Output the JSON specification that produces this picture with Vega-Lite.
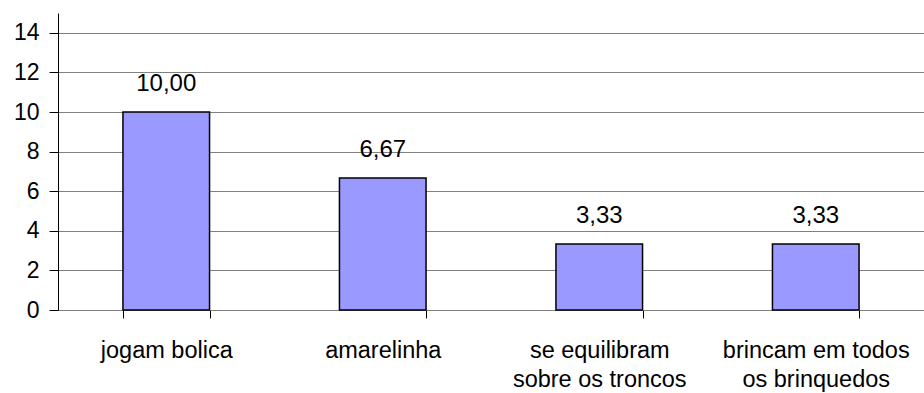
{
  "$schema": "https://vega.github.io/schema/vega-lite/v6.json",
  "width": 866,
  "height": 297,
  "autosize": {"type": "none"},
  "padding": {"left": 58, "top": 13, "right": 0, "bottom": 83},
  "background": "white",
  "config": {
    "font": "Liberation Sans",
    "view": {"stroke": null},
    "locale": {"number": {"decimal": ",", "thousands": ".", "grouping": [3], "currency": ["", ""]}}
  },
  "data": {
    "values": [
      {"categoria": "jogam bolica", "valor": 10.0},
      {"categoria": "amarelinha", "valor": 6.6667},
      {"categoria": "se equilibram sobre os troncos", "valor": 3.3333},
      {"categoria": "brincam em todos os brinquedos", "valor": 3.3333}
    ]
  },
  "encoding": {
    "x": {
      "field": "categoria",
      "type": "nominal",
      "sort": null,
      "scale": {"paddingInner": 0.6, "paddingOuter": 0.3},
      "axis": {
        "title": null,
        "labelAngle": 0,
        "labelFontSize": 23.5,
        "labelColor": "black",
        "labelPadding": 32,
        "labelLineHeight": 29,
        "labelBaseline": "middle",
        "labelExpr": "datum.label == 'se equilibram sobre os troncos' ? ['se equilibram', 'sobre os troncos'] : datum.label == 'brincam em todos os brinquedos' ? ['brincam em todos', 'os brinquedos'] : datum.label",
        "tickBand": "extent",
        "tickSize": 8,
        "tickColor": "black",
        "domainColor": "#808080",
        "labelLimit": 300,
        "labelOverlap": false
      }
    },
    "y": {
      "field": "valor",
      "type": "quantitative",
      "scale": {"domain": [0, 15], "nice": false},
      "axis": {
        "title": null,
        "values": [0, 2, 4, 6, 8, 10, 12, 14],
        "grid": true,
        "gridColor": "#808080",
        "gridWidth": 1,
        "tickSize": 9,
        "tickColor": "black",
        "domainColor": "black",
        "labelFontSize": 23,
        "labelColor": "black",
        "labelPadding": 10
      }
    }
  },
  "layer": [
    {
      "mark": {"type": "bar", "color": "#9999FF", "stroke": "black", "strokeWidth": 1.5}
    },
    {
      "mark": {"type": "text", "baseline": "bottom", "dy": -16, "fontSize": 24, "color": "black"},
      "encoding": {
        "text": {"field": "valor", "type": "quantitative", "format": ".2f"}
      }
    }
  ]
}
